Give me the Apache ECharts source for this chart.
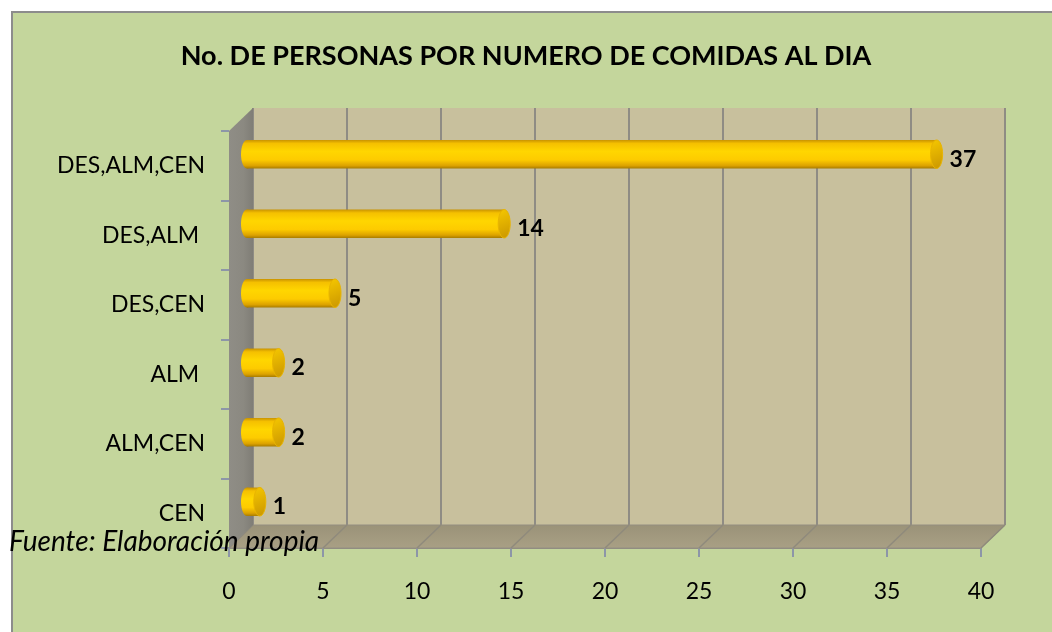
<!DOCTYPE html>
<html>
<head>
<meta charset="utf-8">
<script src="https://cdn.jsdelivr.net/npm/echarts@6/dist/echarts.min.js"></script>
<style>
  html, body { margin: 0; padding: 0; background: #fff; overflow: hidden; }
  #frame {
    position: absolute; left: 11px; top: 11px; width: 1100px; height: 700px;
    border: 2px solid #8c8c8c; background: #c4d69c;
  }
  #chart { position: absolute; left: 0; top: 0; width: 1052px; height: 632px; }
</style>
</head>
<body>
<div id="frame"></div>
<div id="chart"></div>
<script>
var categories = ['CEN', 'ALM,CEN', 'ALM ', 'DES,CEN', 'DES,ALM ', 'DES,ALM,CEN'];
var values = [1, 2, 2, 5, 14, 37];
var xTicks = [0, 5, 10, 15, 20, 25, 30, 35, 40];

var font = 'Lato, "Open Sans", sans-serif';
var depthX = 24;
var depthY = 23;

var chart = echarts.init(document.getElementById('chart'));

// walls: floor + left side, drawn off the back grid
function renderWalls(params, api) {
  var cs = params.coordSys;
  var x = cs.x, y = cs.y, w = cs.width, h = cs.height;
  var children = [];
  children.push({
    type: 'polygon',
    shape: { points: [[x, y + h], [x + w, y + h], [x + w - depthX, y + h + depthY], [x - depthX, y + h + depthY]] },
    style: {
      fill: new echarts.graphic.LinearGradient(0, 0, 0, 1, [
        { offset: 0, color: '#9a9278' },
        { offset: 1, color: '#a9a085' }
      ]),
      stroke: '#948e80', lineWidth: 1
    }
  });
  xTicks.forEach(function(t) {
    var p = api.coord([t, categories[0]]);
    children.push({
      type: 'line',
      shape: { x1: p[0], y1: y + h, x2: p[0] - depthX, y2: y + h + depthY },
      style: { stroke: '#8f8a7c', lineWidth: 1.5 }
    });
  });
  children.push({
    type: 'polygon',
    shape: { points: [[x, y], [x, y + h], [x - depthX, y + h + depthY], [x - depthX, y + depthY]] },
    style: {
      fill: new echarts.graphic.LinearGradient(0, 0, 1, 0, [
        { offset: 0, color: '#8f8d86' },
        { offset: 0.6, color: '#8b8981' },
        { offset: 1, color: '#7f7d76' }
      ])
    }
  });
  return { type: 'group', children: children };
}

function renderBar(params, api) {
  var cat = api.value(0);
  var val = api.value(1);
  var start = api.coord([0, cat]);
  var end = api.coord([val, cat]);
  var band = api.size([0, 1])[1];
  var h = band * 0.41;
  var rx = 6;
  var top = start[1] - h / 2;
  var body = new echarts.graphic.LinearGradient(0, 0, 0, 1, [
    { offset: 0, color: '#c99300' },
    { offset: 0.12, color: '#f5c000' },
    { offset: 0.4, color: '#ffd600' },
    { offset: 0.7, color: '#fdcb00' },
    { offset: 0.9, color: '#dca200' },
    { offset: 1, color: '#a87c00' }
  ]);
  return {
    type: 'group',
    children: [
      {
        type: 'ellipse',
        shape: { cx: start[0] + rx, cy: start[1], rx: rx, ry: h / 2 },
        style: { fill: body }
      },
      {
        type: 'rect',
        shape: { x: start[0] + rx, y: top, width: end[0] - start[0] - rx, height: h },
        style: { fill: body }
      },
      {
        type: 'ellipse',
        shape: { cx: end[0], cy: end[1], rx: rx, ry: h / 2 },
        style: {
          fill: new echarts.graphic.LinearGradient(0, 0, 1, 1, [
            { offset: 0, color: '#f6c800' },
            { offset: 1, color: '#c99500' }
          ]),
          stroke: '#e8b400', lineWidth: 1
        }
      },
      {
        type: 'text',
        style: {
          text: String(val),
          x: end[0] + rx + 7,
          y: end[1] + 5,
          verticalAlign: 'middle',
          fill: '#000',
          font: 'bold 23px ' + font
        }
      }
    ]
  };
}

var barData = categories.map(function(c, i) {
  return [i, values[i]];
});

chart.setOption({
  animation: false,
  title: {
    text: 'No. DE PERSONAS POR NUMERO DE COMIDAS AL DIA',
    left: 'center',
    top: 38,
    textStyle: { fontFamily: font, fontWeight: 'bold', fontSize: 27, color: '#000' }
  },
  graphic: [{
    type: 'text',
    left: 9,
    top: 528,
    z: 100,
    style: {
      text: 'Fuente: Elaboración propia',
      font: 'italic 28px ' + font,
      fill: '#000'
    }
  }],
  grid: [
    { left: 253, top: 108, width: 752, height: 417, show: true, backgroundColor: '#c8c09d', borderWidth: 0 },
    { left: 229, top: 131, width: 752, height: 417 },
    { left: 241, top: 119.5, width: 752, height: 417 }
  ],
  xAxis: [
    {
      gridIndex: 0, type: 'value', min: 0, max: 40, interval: 5,
      axisLabel: { show: false }, axisLine: { show: false }, axisTick: { show: false },
      splitLine: { show: true, lineStyle: { color: '#8f8c84', width: 2 } }
    },
    {
      gridIndex: 1, type: 'value', min: 0, max: 40, interval: 5,
      axisLine: { show: true, lineStyle: { color: '#8f8c84', width: 1 } },
      axisTick: { show: true, length: 9, lineStyle: { color: '#8d96a8', width: 2 } },
      axisLabel: { margin: 32, color: '#000', fontSize: 23, fontFamily: font },
      splitLine: { show: false }
    },
    {
      gridIndex: 2, type: 'value', min: 0, max: 40, interval: 5, show: false
    }
  ],
  yAxis: [
    { gridIndex: 0, type: 'category', data: categories, show: false },
    {
      gridIndex: 1, type: 'category', data: categories,
      axisLine: { show: false },
      axisTick: { show: true, length: 8, lineStyle: { color: '#8d96a8', width: 2 } },
      axisLabel: { margin: 24, color: '#000', fontSize: 23, fontFamily: font },
      splitLine: { show: false }
    },
    { gridIndex: 2, type: 'category', data: categories, show: false }
  ],
  series: [
    {
      type: 'custom',
      xAxisIndex: 0,
      yAxisIndex: 0,
      silent: true,
      z: 1,
      renderItem: renderWalls,
      data: [[0, 0]]
    },
    {
      type: 'custom',
      xAxisIndex: 2,
      yAxisIndex: 2,
      z: 5,
      renderItem: renderBar,
      encode: { x: 1, y: 0 },
      data: barData
    }
  ]
});
</script>
</body>
</html>
